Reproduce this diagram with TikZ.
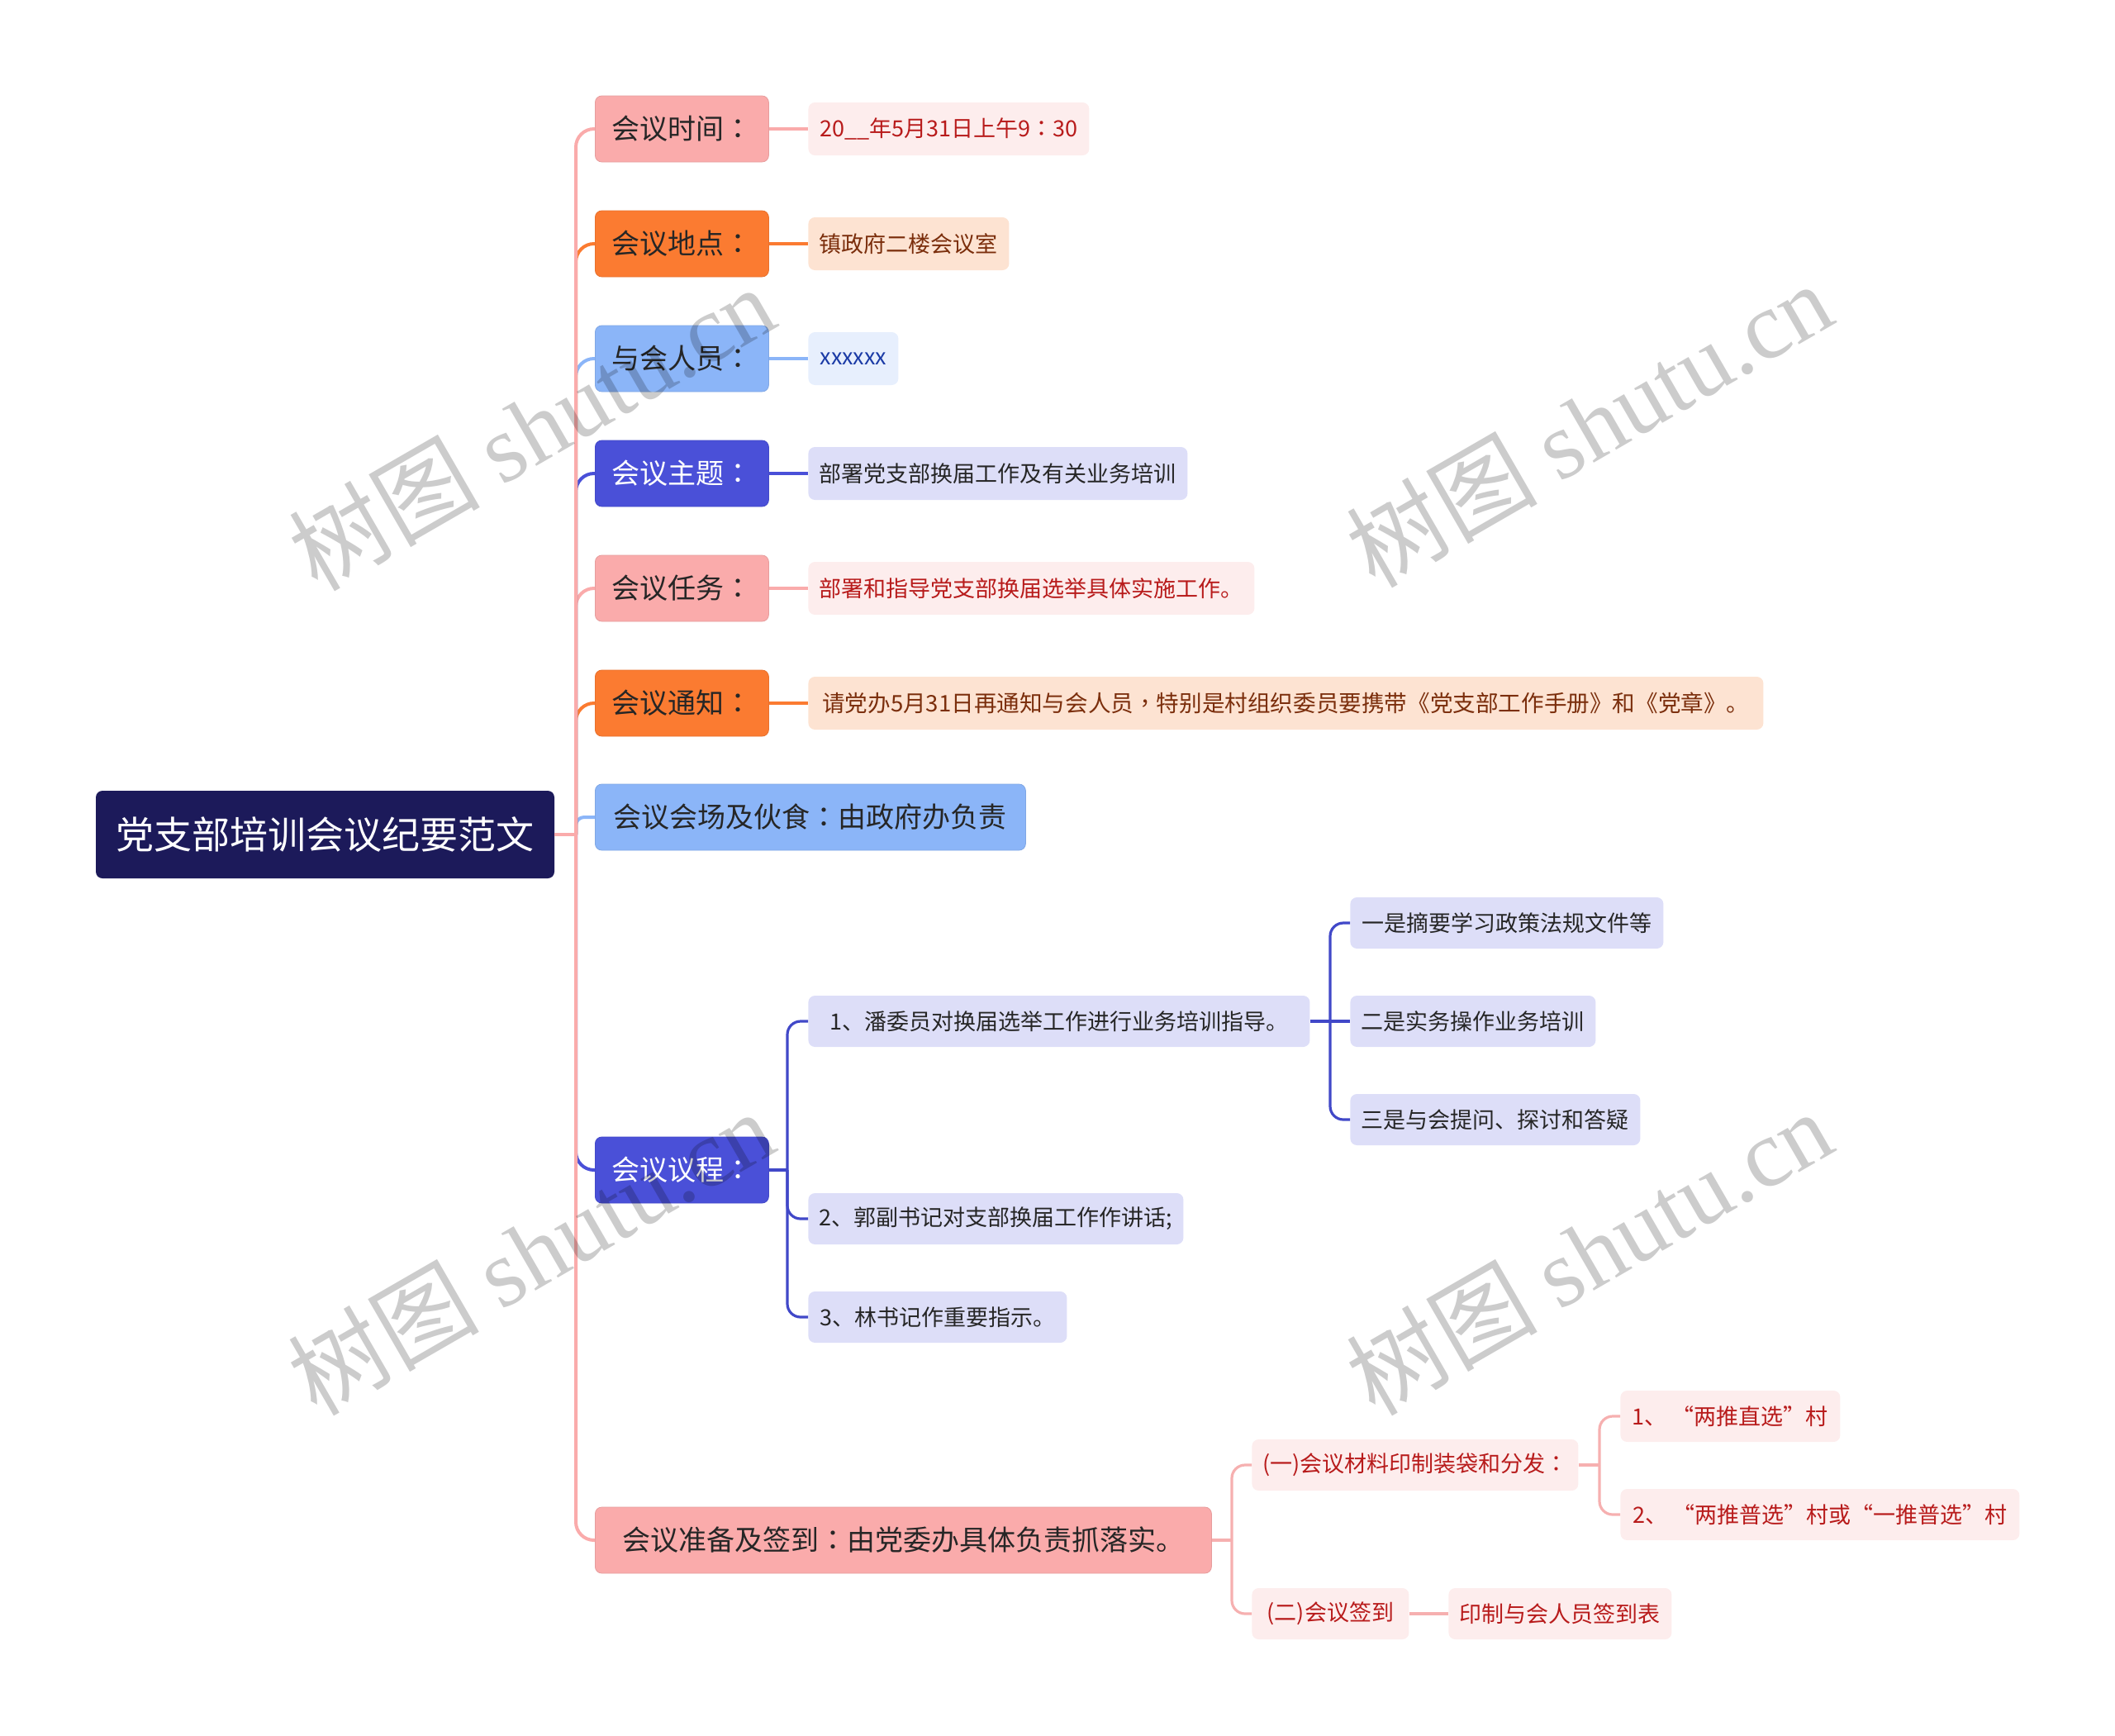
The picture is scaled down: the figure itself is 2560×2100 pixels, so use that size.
\documentclass[tikz,border=0pt]{standalone}
\usepackage{fontspec}
\setmainfont{Noto Sans CJK SC}
\newfontfamily\tcfont{Noto Sans CJK TC}
\newfontfamily\wmserif{Liberation Serif}
\newcommand{\cc}{{\tcfont ：}}
\newcommand{\cm}{{\tcfont ，}}
\usetikzlibrary{positioning}
\definecolor{pinkA}{HTML}{FAABAB}
\definecolor{orangeA}{HTML}{FB7B31}
\definecolor{blueA}{HTML}{8BB5F8}
\definecolor{indigoA}{HTML}{4A50D8}
\definecolor{rootC}{HTML}{1C1A5A}
\definecolor{pinkB}{HTML}{FDEDED}
\definecolor{orangeB}{HTML}{FDE3D2}
\definecolor{blueB}{HTML}{E7EFFD}
\definecolor{lavB}{HTML}{DDDEF8}
\definecolor{redT}{HTML}{B81B1B}
\definecolor{brownT}{HTML}{7B2E0C}
\definecolor{blueT}{HTML}{1B3BA6}
\definecolor{darkT}{HTML}{262626}
\definecolor{pinkL}{HTML}{F6B0B0}
\definecolor{indigoL}{HTML}{4148C8}
\tikzset{
  rootbox/.style={rounded corners=4pt, fill=rootC, text=white, minimum width=277.5pt, minimum height=53pt, font=\fontsize{23}{26}\selectfont, inner sep=0pt},
  lone/.style={rounded corners=4pt, anchor=west, minimum height=40pt, inner xsep=10pt, inner ysep=0pt, font=\fontsize{17}{20}\selectfont, text=darkT},
  ltwo/.style={rounded corners=4pt, anchor=west, minimum height=32pt, inner xsep=6pt, inner ysep=0pt, font=\fontsize{13.5}{16}\selectfont},
  lthree/.style={rounded corners=4pt, anchor=west, minimum height=31pt, inner xsep=6pt, inner ysep=0pt, font=\fontsize{13.5}{16}\selectfont},
  pinkone/.style={lone, fill=pinkA, draw=pinkA!92!black, line width=0.4pt},
  orangeone/.style={lone, fill=orangeA, draw=orangeA!92!black, line width=0.4pt},
  blueone/.style={lone, fill=blueA, draw=blueA!92!black, line width=0.4pt},
  indigoone/.style={lone, fill=indigoA, draw=indigoA!92!black, line width=0.4pt, text=white},
  pinktwo/.style={ltwo, fill=pinkB, text=redT},
  orangetwo/.style={ltwo, fill=orangeB, text=brownT},
  bluetwo/.style={ltwo, fill=blueB, text=blueT},
  lavtwo/.style={ltwo, fill=lavB, text=darkT},
  lavthree/.style={lthree, fill=lavB, text=darkT},
  pinkthree/.style={lthree, fill=pinkB, text=redT},
  mainconn/.style={line width=2pt},
  subconn/.style={line width=1.6pt},
  wmark/.style={text=black, text opacity=0.2, rotate=30, font=\fontsize{58}{64}\selectfont}
}
\begin{document}
\begin{tikzpicture}[x=0.5pt, y=-0.5pt]
\useasboundingbox (0,0) rectangle (2560,2100);
% root
\node[rootbox] (root) at (393.5,1010) {党支部培训会议纪要范文};
% level 1
\node[pinkone, minimum width=104.5pt] (t1) at (720,156) {会议时间\cc};
\node[orangeone, minimum width=104.5pt] (t2) at (720,295) {会议地点\cc};
\node[blueone, minimum width=104.5pt] (t3) at (720,434) {与会人员\cc};
\node[indigoone, minimum width=104.5pt] (t4) at (720,573) {会议主题\cc};
\node[pinkone, minimum width=104.5pt] (t5) at (720,712) {会议任务\cc};
\node[orangeone, minimum width=104.5pt] (t6) at (720,851) {会议通知\cc};
\node[blueone, minimum width=260.5pt] (t7) at (720,989) {会议会场及伙食\cc 由政府办负责};
\node[indigoone, minimum width=104.5pt] (t8) at (720,1416) {会议议程\cc};
\node[pinkone, minimum width=373pt] (t9) at (720,1864) {会议准备及签到\cc 由党委办具体负责抓落实。};
% level 2
\node[pinktwo, minimum width=170pt] (d1) at (978,156) {20\_\_年5月31日上午9\cc 30};
\node[orangetwo, minimum width=121.5pt] (d2) at (978,295) {镇政府二楼会议室};
\node[bluetwo, minimum width=54.5pt] (d3) at (978,434) {xxxxxx};
\node[lavtwo, minimum width=229.5pt] (d4) at (978,573) {部署党支部换届工作及有关业务培训};
\node[pinktwo, minimum width=270pt] (d5) at (978,712) {部署和指导党支部换届选举具体实施工作。};
\node[orangetwo, minimum width=578pt, font=\fontsize{13.8}{16}\selectfont] (d6) at (978,851) {请党办5月31日再通知与会人员\cm 特别是村组织委员要携带《党支部工作手册》和《党章》。};
% agenda
\node[lavthree, minimum width=303.5pt] (a1) at (978,1236) {1、潘委员对换届选举工作进行业务培训指导。};
\node[lavthree, minimum width=227pt] (a2) at (978,1475) {2、郭副书记对支部换届工作作讲话;};
\node[lavthree, minimum width=156.5pt] (a3) at (978,1594) {3、林书记作重要指示。};
\node[lavthree, minimum width=189.5pt] (b1) at (1634,1117) {一是摘要学习政策法规文件等};
\node[lavthree, minimum width=148.5pt] (b2) at (1634,1236) {二是实务操作业务培训};
\node[lavthree, minimum width=175.5pt] (b3) at (1634,1355) {三是与会提问、探讨和答疑};
% preparation
\node[pinkthree, minimum width=197.5pt] (p1) at (1515,1773) {(一)会议材料印制装袋和分发\cc};
\node[pinkthree, minimum width=95pt] (p2) at (1515,1953) {(二)会议签到};
\node[pinkthree, minimum width=135pt] (p3) at (1753,1953) {印制与会人员签到表};
\node[pinkthree, minimum width=133pt] (q1) at (1961,1714) {1、 “两推直选”村};
\node[pinkthree, minimum width=241.5pt] (q2) at (1961,1833) {2、 “两推普选”村或“一推普选”村};
% main connectors (nearest first)
\draw[mainconn, blueA, rounded corners=5pt] (697,1010) |- (t7.west);
\draw[mainconn, orangeA, rounded corners=11pt] (697,1010) |- (t6.west);
\draw[mainconn, pinkA, rounded corners=11pt] (697,1010) |- (t5.west);
\draw[mainconn, indigoA, rounded corners=11pt] (697,1010) |- (t8.west);
\draw[mainconn, indigoA, rounded corners=11pt] (697,1010) |- (t4.west);
\draw[mainconn, blueA, rounded corners=11pt] (697,1010) |- (t3.west);
\draw[mainconn, orangeA, rounded corners=11pt] (697,1010) |- (t2.west);
\draw[mainconn, pinkA, rounded corners=11pt] (697,1010) |- (t1.west);
\draw[mainconn, pinkA, rounded corners=11pt] (697,1010) |- (t9.west);
\draw[mainconn, pinkA] (root.east) -- (698,1010);
% level1 to level2
\draw[mainconn, pinkA] (t1.east) -- (d1.west);
\draw[mainconn, orangeA] (t2.east) -- (d2.west);
\draw[mainconn, blueA] (t3.east) -- (d3.west);
\draw[mainconn, indigoA] (t4.east) -- (d4.west);
\draw[mainconn, pinkA] (t5.east) -- (d5.west);
\draw[mainconn, orangeA] (t6.east) -- (d6.west);
% agenda connectors
\draw[subconn, indigoL] (t8.east) -- (954,1416);
\draw[subconn, indigoL, rounded corners=8pt] (953,1416) |- (a1.west);
\draw[subconn, indigoL, rounded corners=8pt] (953,1416) |- (a2.west);
\draw[subconn, indigoL, rounded corners=8pt] (953,1416) |- (a3.west);
\draw[subconn, indigoL] (a1.east) -- (b2.west);
\draw[subconn, indigoL, rounded corners=8pt] (1610,1236) |- (b1.west);
\draw[subconn, indigoL, rounded corners=8pt] (1610,1236) |- (b3.west);
% preparation connectors
\draw[subconn, pinkL] (t9.east) -- (1492,1864);
\draw[subconn, pinkL, rounded corners=8pt] (1491,1864) |- (p1.west);
\draw[subconn, pinkL, rounded corners=8pt] (1491,1864) |- (p2.west);
\draw[subconn, pinkL] (p2.east) -- (p3.west);
\draw[subconn, pinkL] (p1.east) -- (1937,1773);
\draw[subconn, pinkL, rounded corners=8pt] (1936,1773) |- (q1.west);
\draw[subconn, pinkL, rounded corners=8pt] (1936,1773) |- (q2.west);
% watermarks
\node[wmark] (w1) at (643,517) {树图 {\wmserif shutu.cn}};
\node[wmark] (w2) at (1923,513) {树图 {\wmserif shutu.cn}};
\node[wmark] (w3) at (642,1515) {树图 {\wmserif shutu.cn}};
\node[wmark] (w4) at (1923,1515) {树图 {\wmserif shutu.cn}};
\end{tikzpicture}
\end{document}
